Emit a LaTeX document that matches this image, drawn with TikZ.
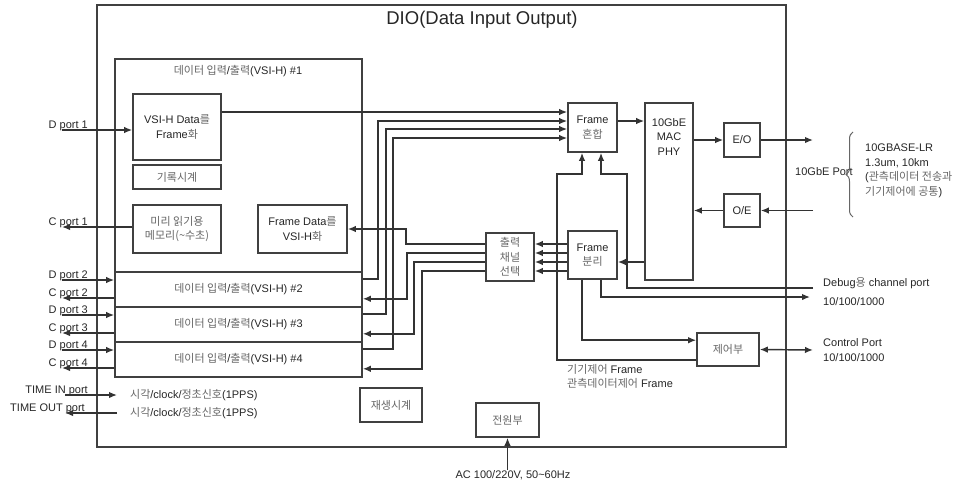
\documentclass[tikz,border=0pt]{standalone}
\usepackage{fontspec}
\setmainfont{Liberation Sans}
\newfontfamily\krfont{Noto Sans CJK KR}
\usepackage{xcolor}
\usepackage{tikz}
\usetikzlibrary{arrows.meta,positioning,calc,decorations.pathreplacing}
\newcommand{\ko}[1]{{\krfont\color{black!60}#1}}

\begin{document}
\begin{tikzpicture}[
    x=1pt, y=-1pt,
    >={Latex[length=8pt,width=6.5pt]},
    wire/.style={line width=1.45pt, black!80},
    frame/.style={draw=black!75, line width=1.6pt},
    box/.style={draw=black!75, line width=1.6pt, fill=white, align=center, inner sep=1pt, font=\fontsize{11}{14.5}\selectfont, text=black!85},
    txt/.style={inner sep=0pt, align=left, font=\fontsize{11}{14.5}\selectfont, text=black!85},
    portlbl/.style={txt, anchor=base east},
    brace/.style={decorate, decoration={brace, amplitude=7pt}, line width=1pt, draw=black!60}
]
\useasboundingbox (0,0) rectangle (960,483);

% DIO unit
\node[frame, minimum width=689pt, minimum height=442pt] (dio) at (441.5,226) {};
\node[txt, font=\fontsize{18.5}{22}\selectfont] (diot) at (482,20) {DIO(Data Input Output)};

% VSI-H channels
\node[box, minimum width=247pt, minimum height=213pt] (vsi1) at (238.5,165.5) {};
\node[txt] (vsi1t) at (238,71) {\ko{데이터 입력}/\ko{출력}(VSI-H) \#1};
\foreach \n/\yy in {2/289.5,3/324.5,4/359.5}
    \node[box, minimum width=247pt, minimum height=35pt] (vsi\n) at (238.5,\yy) {\ko{데이터 입력}/\ko{출력}(VSI-H) \#\n};

\node[box, minimum width=88pt, minimum height=66pt] (fmt) at (177,127) {VSI-H Data\ko{를}\\Frame\ko{화}};
\node[box, minimum width=88pt, minimum height=24pt] (rec) at (177,177) {\ko{기록시계}};
\node[box, minimum width=88pt, minimum height=48pt] (mem) at (177,229) {\ko{미리 읽기용}\\\ko{메모리(\textasciitilde 수초)}};
\node[box, minimum width=89pt, minimum height=48pt] (vsih) at (302.5,229) {Frame Data\ko{를}\\VSI-H\ko{화}};

% frame path
\node[box, minimum width=49pt, minimum height=49pt] (mix) at (592.5,127.5) {Frame\\\ko{혼합}};
\node[box, minimum width=49pt, minimum height=48pt] (sep) at (592.5,255) {Frame\\\ko{분리}};
\node[box, minimum width=48pt, minimum height=48pt] (sel) at (510,257) {\ko{출력}\\\ko{채널}\\\ko{선택}};
\node[box, minimum width=48pt, minimum height=177pt] (mac) at (669,191.5) {};
\node[txt, align=center] (mact) at (669,137) {10GbE\\MAC\\PHY};
\node[box, minimum width=36pt, minimum height=34pt] (eo) at (742,140) {E/O};
\node[box, minimum width=36pt, minimum height=33pt] (oe) at (742,210.5) {O/E};
\node[box, minimum width=62pt, minimum height=33pt] (ctrl) at (728,349.5) {\ko{제어부}};
\node[box, minimum width=62pt, minimum height=34pt] (clk) at (391,405) {\ko{재생시계}};
\node[box, minimum width=63pt, minimum height=34pt] (pwr) at (507.5,420) {\ko{전원부}};

% ports on the left
\foreach \n/\yd/\yc in {1/130/227,2/280/298,3/315/333,4/350/368} {
    \coordinate (dp\n) at (62,\yd);
    \coordinate (cp\n) at (62,\yc);
    \node[portlbl] (ldp\n) at (88,\yd-2) {D port \n};
    \node[portlbl] (lcp\n) at (88,\yc-2) {C port \n};
}
\draw[wire,->] (dp1) -- (dp1 -| fmt.west);
\draw[wire,->] (cp1 -| mem.west) -- (cp1);
\foreach \n in {2,3,4} {
    \draw[wire,->] (dp\n) -- (dp\n -| vsi\n.west);
    \draw[wire,->] (cp\n -| vsi\n.west) -- (cp\n);
}

\coordinate (tin) at (65,395);
\coordinate (tout) at (65,413);
\node[portlbl] (ltin) at (88,393) {TIME IN port};
\node[portlbl] (ltout) at (85,411) {TIME OUT port};
\node[txt, anchor=west] (tint) at (130,395) {\ko{시각}/clock/\ko{정초신호}(1PPS)};
\node[txt, anchor=west] (toutt) at (130,413) {\ko{시각}/clock/\ko{정초신호}(1PPS)};
\draw[wire,->] (tin) -- ($(tint.west)+(-13,0)$);
\draw[wire,->] ($(toutt.west)+(-13,0)$) -- (tout);

% into Frame mux
\draw[wire,->] (fmt.east |- 0,112) -- (mix.west |- 0,112);
\foreach \n/\xx/\yy in {2/378/121,3/386/129,4/393/138}
    \draw[wire,->] ($(vsi\n.north east)+(0,8)$) -| (\xx,\yy) -- (mix.west |- 0,\yy);

% out of channel select
\draw[wire,->] (sel.west |- 0,244) -- (406,244) |- (vsih.east);
\foreach \n/\xx/\yy in {2/407/253,3/414/262,4/422/271}
    \draw[wire,->] (sel.west |- 0,\yy) -- (\xx,\yy) |- ($(vsi\n.south east)+(0,-9)$);
\foreach \yy in {244,253,262,271}
    \draw[wire,->] (sep.west |- 0,\yy) -- (sel.east |- 0,\yy);

% 10GbE side
\draw[wire,->] (mix.east |- 0,121) -- (mac.west |- 0,121);
\draw[wire,->] (mac.east |- eo.west) -- (eo.west);
\coordinate (tgo) at (813,140);
\coordinate (tgi) at (813,210.5);
\draw[wire,->] (eo.east) -- (tgo);
\draw[wire,->] (tgi) -- (oe.east);
\draw[wire,->] (oe.west) -- (mac.east |- oe.west);
\draw[wire,->] (mac.west |- 0,262) -- (sep.east |- 0,262);

% debug, LAN and control
\coordinate (dbg) at (813,288);
\coordinate (lan) at (810,297);
\coordinate (cport) at (813,350);
\draw[wire,->] (dbg) -| (627,174) -| ($(mix.south)+(8.5,0)$);
\draw[wire,->] ($(sep.south)+(8.5,0)$) |- (lan);
\draw[wire,->] ($(sep.south)+(-10.5,0)$) |- ($(ctrl.north west)+(0,8)$);
\draw[wire,->] ($(ctrl.south west)+(0,-7)$) -| (557,174) -| ($(mix.south)+(-10.5,0)$);
\draw[wire,<->] (ctrl.east) -- (cport);

% power
\node[txt] (ac) at (513,475) {AC 100/220V, 50\textasciitilde 60Hz};
\draw[wire,->] (ac.north -| pwr.south) -- (pwr.south);

% right hand texts
\node[txt, anchor=west] (tgport) at (795,172) {10GbE Port};
\draw[brace] (853,217) -- (853,132);
\node[txt, anchor=north west] (lr) at (865,144) {10GBASE-LR\\1.3um, 10km\\(\ko{관측데이터 전송과}\\\ko{기기제어에 공통})};
\node[txt, anchor=west] (dbgt) at (823,283) {Debug\ko{용} channel port};
\node[txt, anchor=west] (lant) at (823,302) {10/100/1000};
\node[txt, anchor=west] (cpt) at (823,350) {Control Port\\10/100/1000};
\node[txt, anchor=west] (frt) at (567,376.5) {\ko{기기제어} Frame\\\ko{관측데이터제어} Frame};
\end{tikzpicture}
\end{document}
